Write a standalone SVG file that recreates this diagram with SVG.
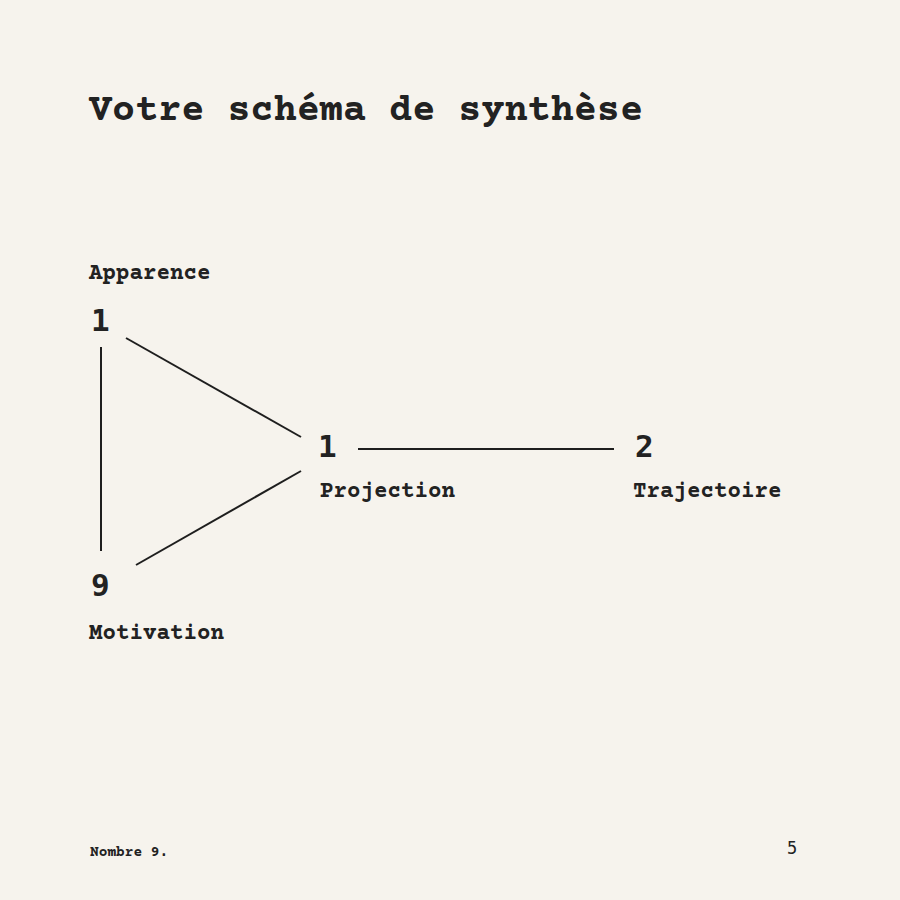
<svg xmlns="http://www.w3.org/2000/svg" width="900" height="900" viewBox="0 0 900 900">
<style>
.title{font-family:"Courier Prime","Nimbus Mono PS","Nimbus Mono L","FreeMono","Courier","Liberation Mono",monospace;font-weight:bold;font-size:38.5px;fill:#222}
.lbl{font-family:"Courier Prime","Nimbus Mono PS","Nimbus Mono L","FreeMono","Courier","Liberation Mono",monospace;font-weight:bold;font-size:22.5px;fill:#222}
.num{font-family:"DejaVu Sans Mono","Liberation Mono",monospace;font-weight:bold;font-size:31px;fill:#222}
.foot{font-family:"Courier Prime","Nimbus Mono PS","Nimbus Mono L","FreeMono","Courier","Liberation Mono",monospace;font-weight:bold;font-size:14.5px;fill:#222}
.page{font-family:"DejaVu Sans Mono",monospace;font-size:17px;fill:#222}
.edge{stroke:#1e1e1e;stroke-width:2;fill:none}
</style>
<rect width="900" height="900" fill="#f6f3ed"/>
<text class="title" x="89" y="120">Votre schéma de synthèse</text>
<g id="connectors">
<line class="edge" x1="101" y1="347" x2="101" y2="551"/>
<line class="edge" x1="126" y1="338" x2="301" y2="437"/>
<line class="edge" x1="136" y1="565" x2="301" y2="471"/>
<line class="edge" x1="358" y1="449" x2="614" y2="449"/>
</g>
<g id="node-apparence">
<text class="lbl" x="89" y="279">Apparence</text>
<text class="num" x="91" y="331">1</text>
</g>
<g id="node-projection">
<text class="num" x="318" y="457">1</text>
<text class="lbl" x="320" y="497">Projection</text>
</g>
<g id="node-trajectoire">
<text class="num" x="635" y="457">2</text>
<text class="lbl" x="633" y="497">Trajectoire</text>
</g>
<g id="node-motivation">
<text class="num" x="91" y="596">9</text>
<text class="lbl" x="89" y="639">Motivation</text>
</g>
<text class="foot" x="90" y="856">Nombre 9.</text>
<text class="page" x="787" y="854">5</text>
</svg>
